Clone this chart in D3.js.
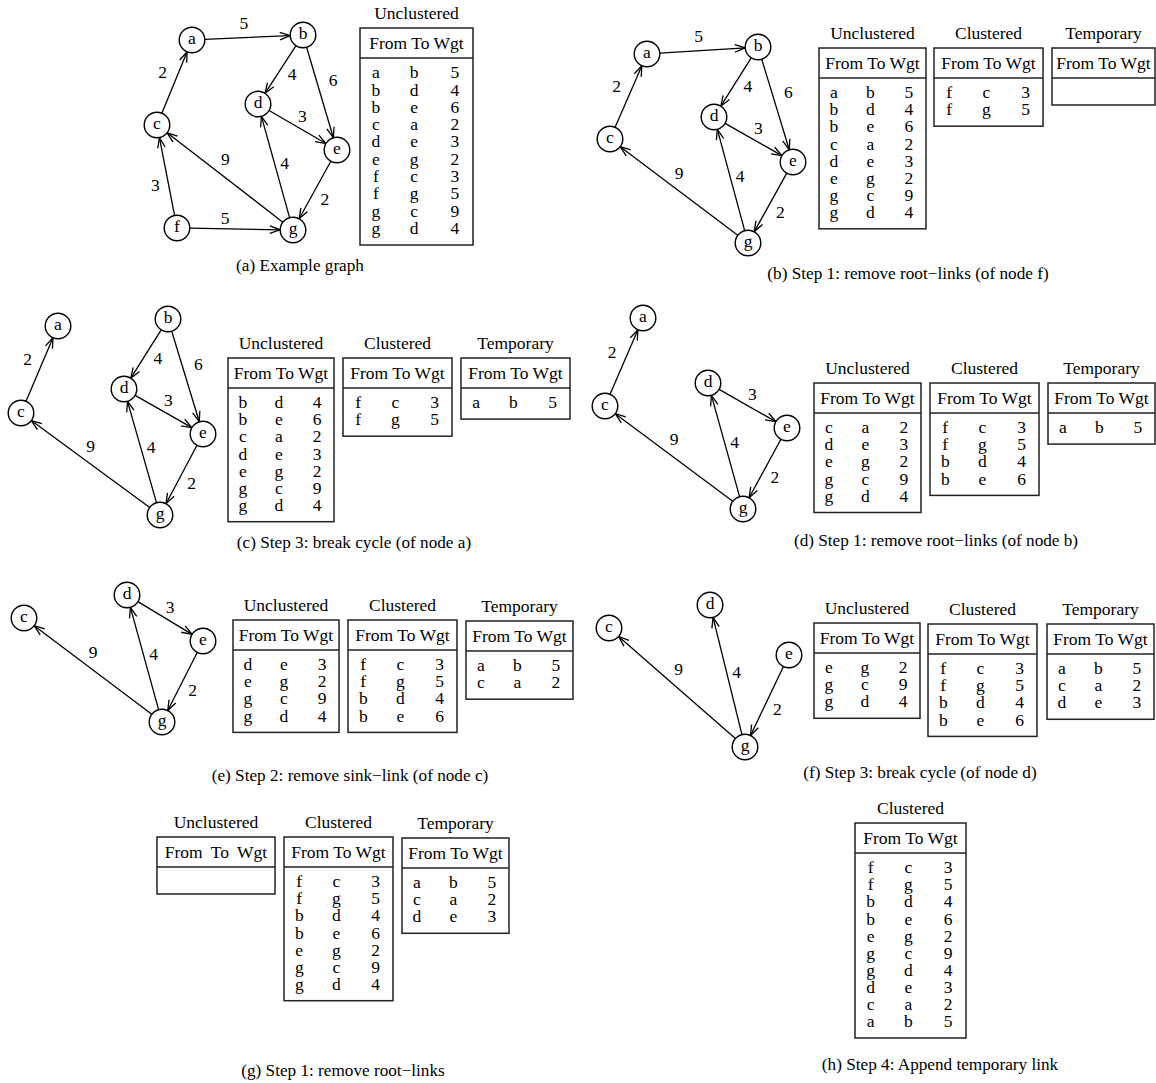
<!DOCTYPE html>
<html lang="en">
<head>
<meta charset="UTF-8">
<title>Clustering steps</title>
<script src="https://d3js.org/d3.v7.min.js"></script>
<style>
  body { margin: 0; background: #fff; }
  svg text { font-family: "Liberation Serif", "Times New Roman", serif; fill: #000; }
  .node circle { fill: #fff; stroke: #000; stroke-width: 1.4; }
  .edge { fill: none; stroke: #000; stroke-width: 1.3; }
  .box { fill: none; stroke: #222; stroke-width: 1.5; }
</style>
</head>
<body>
<svg width="1156" height="1083"></svg>
<script>
// links: key = from+to, value = weight
const linkKeys = ["ab", "bd", "be", "ca", "de", "eg", "fc", "fg", "gc", "gd"];
const linkWeights = [5, 4, 6, 2, 3, 2, 3, 5, 9, 4];
const weight = Object.fromEntries(linkKeys.map((k, i) => [k, linkWeights[i]]));

// table contents at each step
const uncA = ["ab", "bd", "be", "ca", "de", "eg", "fc", "fg", "gc", "gd"];
const uncB = ["ab", "bd", "be", "ca", "de", "eg", "gc", "gd"];
const uncC = ["bd", "be", "ca", "de", "eg", "gc", "gd"];
const uncD = ["ca", "de", "eg", "gc", "gd"];
const uncE = ["de", "eg", "gc", "gd"];
const uncF = ["eg", "gc", "gd"];
const uncG = [];
const cluB = ["fc", "fg"];
const cluD = ["fc", "fg", "bd", "be"];
const cluG = ["fc", "fg", "bd", "be", "eg", "gc", "gd"];
const cluH = ["fc", "fg", "bd", "be", "eg", "gc", "gd", "de", "ca", "ab"];
const tmpB = [];
const tmpC = ["ab"];
const tmpE = ["ab", "ca"];
const tmpF = ["ab", "ca", "de"];

const captions = [
  "(a) Example graph",
  "(b) Step 1: remove root\u2212links (of node f)",
  "(c) Step 3: break cycle (of node a)",
  "(d) Step 1: remove root\u2212links (of node b)",
  "(e) Step 2: remove sink\u2212link (of node c)",
  "(f) Step 3: break cycle (of node d)",
  "(g) Step 1: remove root\u2212links",
  "(h) Step 4: Append temporary link"
];

// where a weight label sits relative to its link: [normal offset, shift along]
const labelPlace = {
  ab: [15, -3], bd: [12, -3], be: [16, -8], ca: [15, 5], de: [12.5, -1.5],
  eg: [13, 3], fc: [13, -6], fg: [11, -10], gc: [-15, 11], gd: [-10, 2]
};

// layout of each panel
const panels = [
  { nodes: {a: [192, 40], b: [303, 35], c: [157, 125], d: [258, 104], e: [337, 150], f: [177, 228], g: [293, 230]},
    tables: [{title: "Unclustered", rows: uncA, x: 360, y: 28, w: 113}],
    rowH: 17.3, cap: [300, 265] },
  { nodes: {a: [647, 54], b: [758, 47], c: [610, 139], d: [714, 117], e: [793, 162], g: [748, 243]},
    tables: [{title: "Unclustered", rows: uncB, x: 819, y: 48, w: 107},
             {title: "Clustered", rows: cluB, x: 934, y: 48, w: 109},
             {title: "Temporary", rows: tmpB, x: 1052, y: 48, w: 103}],
    cap: [908, 273] },
  { nodes: {a: [58, 326], b: [168, 319], c: [21, 413], d: [124, 389], e: [203, 434], g: [160, 515]},
    tables: [{title: "Unclustered", rows: uncC, x: 228, y: 358, w: 106},
             {title: "Clustered", rows: cluB, x: 343, y: 358, w: 109},
             {title: "Temporary", rows: tmpC, x: 461, y: 358, w: 109}],
    cap: [354, 542] },
  { nodes: {a: [643, 318], c: [605, 406], d: [708, 383], e: [787, 428], g: [743, 509]},
    tables: [{title: "Unclustered", rows: uncD, x: 814, y: 383, w: 107},
             {title: "Clustered", rows: cluD, x: 930, y: 383, w: 109},
             {title: "Temporary", rows: tmpC, x: 1048, y: 383, w: 107}],
    cap: [936, 540] },
  { nodes: {c: [24, 618], d: [127, 595], e: [203, 641], g: [162, 722]},
    tables: [{title: "Unclustered", rows: uncE, x: 233, y: 620, w: 106},
             {title: "Clustered", rows: cluD, x: 348, y: 620, w: 109},
             {title: "Temporary", rows: tmpE, x: 466, y: 621, w: 107}],
    cap: [350, 775] },
  { nodes: {c: [609, 628], d: [710, 605], e: [789, 655], g: [745, 747]},
    tables: [{title: "Unclustered", rows: uncF, x: 814, y: 623, w: 106},
             {title: "Clustered", rows: cluD, x: 928, y: 624, w: 109},
             {title: "Temporary", rows: tmpF, x: 1047, y: 624, w: 107}],
    cap: [920, 772] },
  { nodes: {},
    tables: [{title: "Unclustered", rows: uncG, x: 157, y: 837, w: 118},
             {title: "Clustered", rows: cluG, x: 284, y: 837, w: 109},
             {title: "Temporary", rows: tmpF, x: 402, y: 838, w: 107}],
    cap: [343, 1070] },
  { nodes: {},
    tables: [{title: "Clustered", rows: cluH, x: 855, y: 823, w: 111}],
    cap: [940, 1064] }
];

const svg = d3.select("svg");
const R = 12.8;
const colFrac = [0.14, 0.48, 0.84];

function drawGraph(g, p, links) {
  const pos = p.nodes;
  const a = 20 * Math.PI / 180, head = 11;
  links.forEach(k => {
    const [x1, y1] = pos[k[0]], [x2, y2] = pos[k[1]];
    const len = Math.hypot(x2 - x1, y2 - y1);
    const ux = (x2 - x1) / len, uy = (y2 - y1) / len;
    const sx = x1 + ux * R, sy = y1 + uy * R;
    const tx = x2 - ux * R, ty = y2 - uy * R;
    const vx = -ux, vy = -uy;
    const h1 = [tx + head * (vx * Math.cos(a) - vy * Math.sin(a)), ty + head * (vx * Math.sin(a) + vy * Math.cos(a))];
    const h2 = [tx + head * (vx * Math.cos(-a) - vy * Math.sin(-a)), ty + head * (vx * Math.sin(-a) + vy * Math.cos(-a))];
    g.append("path").attr("class", "edge").attr("d", d3.line()([[sx, sy], [tx, ty]]));
    g.append("path").attr("class", "edge").attr("d", d3.line()([h1, [tx, ty], h2]));
    const [off, along] = labelPlace[k];
    g.append("text")
      .attr("x", (x1 + x2) / 2 + uy * off + ux * along)
      .attr("y", (y1 + y2) / 2 - ux * off + uy * along)
      .attr("dy", "0.35em").attr("text-anchor", "middle")
      .attr("font-size", 17.5).text(weight[k]);
  });
  const used = new Set(links.flatMap(k => [k[0], k[1]]));
  const nodes = g.selectAll(".node").data(Object.keys(pos).filter(n => used.has(n)))
    .enter().append("g").attr("class", "node")
    .attr("transform", n => `translate(${pos[n][0]},${pos[n][1]})`);
  nodes.append("circle").attr("r", R);
  nodes.append("text").attr("text-anchor", "middle").attr("dy", "0.25em")
    .attr("font-size", 17.5).text(n => n);
}

function drawTable(g, t, rowH) {
  const line = t.y + 30;
  const bottom = t.rows.length ? line + 14 + t.rows.length * rowH : line + 27;
  g.append("rect").attr("class", "box").attr("x", t.x).attr("y", t.y)
    .attr("width", t.w).attr("height", bottom - t.y);
  g.append("line").attr("class", "box").attr("x1", t.x).attr("x2", t.x + t.w)
    .attr("y1", line).attr("y2", line);
  g.append("text").attr("x", t.x + t.w / 2).attr("y", t.y - 15).attr("dy", "0.33em")
    .attr("text-anchor", "middle").attr("font-size", 17.5).text(t.title);
  g.append("text").attr("x", t.x + t.w / 2).attr("y", t.y + 15).attr("dy", "0.33em")
    .attr("text-anchor", "middle").attr("font-size", 17.5)
    .attr("word-spacing", t.w > 115 ? 4 : 0).text("From To Wgt");
  t.rows.forEach((k, i) => {
    const y = line + 15 + i * rowH;
    [k[0], k[1], weight[k]].forEach((v, j) => {
      g.append("text").attr("x", t.x + t.w * colFrac[j]).attr("y", y).attr("dy", "0.3em")
        .attr("text-anchor", "middle").attr("font-size", 17.5).text(v);
    });
  });
}

panels.forEach((p, i) => {
  const g = svg.append("g");
  const graphLinks = p.tables[0].title === "Unclustered" ? p.tables[0].rows : [];
  if (Object.keys(p.nodes).length) drawGraph(g, p, graphLinks);
  p.tables.forEach(t => drawTable(g, t, p.rowH || 17.1));
  g.append("text").attr("x", p.cap[0]).attr("y", p.cap[1]).attr("dy", "0.33em")
    .attr("text-anchor", "middle").attr("font-size", 17.2).text(captions[i]);
});
</script>
</body>
</html>
